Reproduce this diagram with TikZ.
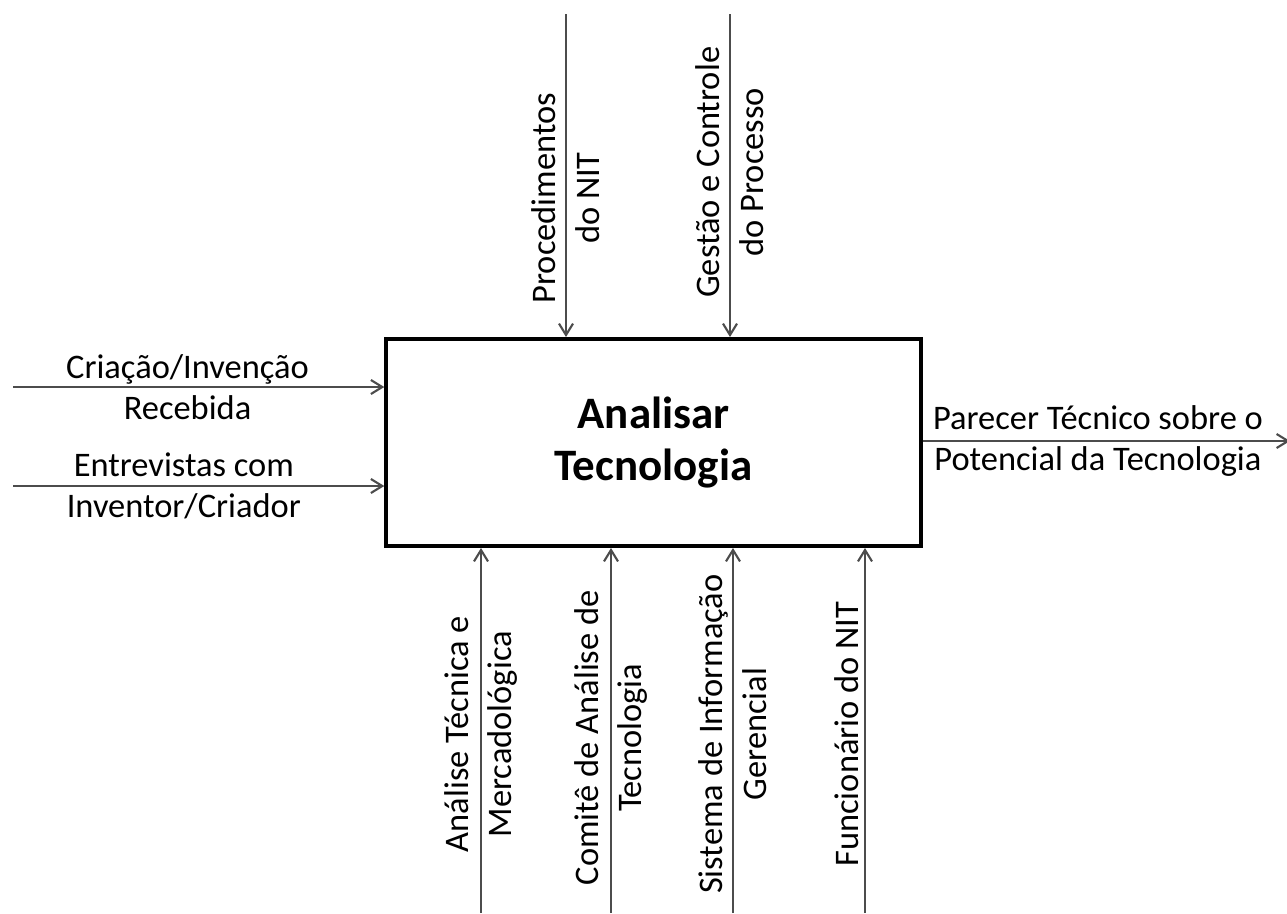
\documentclass[tikz,border=0pt]{standalone}
\usepackage{fontspec}
\setmainfont{Carlito}
\usetikzlibrary{arrows.meta}

\begin{document}
\begin{tikzpicture}[
    x = 0.02cm, y = -0.02cm,
    arr/.style = {-{Straight Barb[length = 6.5pt, width = 8pt]}, line width = 1.2pt, black!70},
    hlbl/.style = {align = center, inner sep = 0pt, text = black, font = \fontsize{19.6}{23}\selectfont},
    vlbl/.style = {align = center, inner sep = 0pt, rotate = 90, text = black, font = \fontsize{19.6}{25}\selectfont}
]
\useasboundingbox (0,0) rectangle (1287,913);
\node[draw, line width = 2pt, minimum width = 10.7cm, minimum height = 4.15cm, align = center,
      font = \fontsize{25.6}{30}\selectfont\bfseries] (act) at (653.5,442.5) {Analisar\\Tecnologia};
% inputs, controls, mechanisms, output
\coordinate (in1) at (13,387);
\coordinate (in2) at (13,486);
\coordinate (ctl1) at (566,14);
\coordinate (ctl2) at (730,14);
\coordinate (mec1) at (481,913);
\coordinate (mec2) at (611,913);
\coordinate (mec3) at (733,913);
\coordinate (mec4) at (865,913);
\coordinate (out) at (1290,441);
% arrows
\path[arr]
(in1) edge node[hlbl, pos = 0.47] {Criação/Invenção\\Recebida} (in1 -| act.west)
(in2) edge node[hlbl, pos = 0.46] {Entrevistas com\\Inventor/Criador} (in2 -| act.west)
(ctl1) edge node[vlbl, pos = 0.57] {Procedimentos\\do NIT} (ctl1 |- act.north)
(ctl2) edge node[vlbl, pos = 0.49] {Gestão e Controle\\do Processo} (ctl2 |- act.north)
(mec1) edge node[vlbl, pos = 0.49] {Análise Técnica e\\Mercadológica} (mec1 |- act.south)
(mec2) edge node[vlbl, pos = 0.48] {Comitê de Análise de\\Tecnologia} (mec2 |- act.south)
(mec3) edge node[vlbl, pos = 0.49] {Sistema de Informação\\Gerencial} (mec3 |- act.south)
(mec4) edge node[vlbl, pos = 0.49, anchor = south, inner sep = 3pt] {Funcionário do NIT} (mec4 |- act.south)
(act.east |- out) edge node[hlbl, pos = 0.477] {Parecer Técnico sobre o\\Potencial da Tecnologia} (out);

\end{tikzpicture}
\end{document}
